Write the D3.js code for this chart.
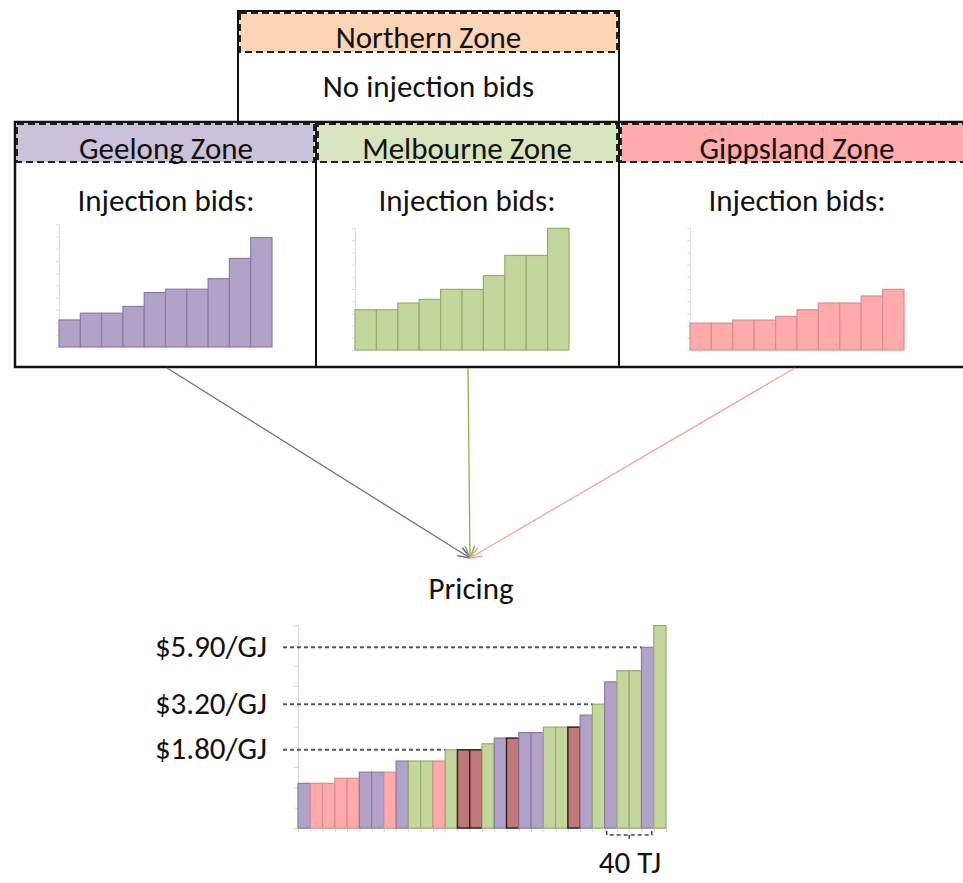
<!DOCTYPE html>
<html>
<head>
<meta charset="utf-8">
<script src="https://cdn.jsdelivr.net/npm/d3@7"></script>
<style>
  body { margin: 0; background: #fff; }
  svg { display: block; font-family: Carlito, Lato, sans-serif; }
</style>
</head>
<body>
<svg id="chart"></svg>
<script>
// bid prices of each zone, in ascending order (schematic units 0-10)
const geelongBids   = [2.2, 2.75, 2.75, 3.3, 4.43, 4.7, 4.7, 5.56, 7.2, 8.9];
const melbourneBids = [3.3, 3.3, 3.85, 4.15, 4.97, 4.97, 6.1, 7.75, 7.75, 9.97];
const gippslandBids = [2.2, 2.2, 2.45, 2.45, 2.75, 3.3, 3.85, 3.85, 4.43, 4.97];

// merit order stack: which zone each bar comes from
const pricingOrder = [
  "Geelong", "Gippsland", "Gippsland", "Gippsland", "Gippsland",
  "Geelong", "Geelong", "Gippsland", "Geelong", "Melbourne",
  "Melbourne", "Gippsland", "Melbourne", "Gippsland", "Gippsland",
  "Melbourne", "Geelong", "Gippsland", "Geelong", "Geelong",
  "Melbourne", "Melbourne", "Gippsland", "Geelong", "Melbourne",
  "Geelong", "Melbourne", "Melbourne", "Geelong", "Melbourne"
];
// bars drawn in the darker red
const darkBars = [13, 14, 17, 22];

// price labels and the bar whose top they mark
const priceLabels = ["$5.90/GJ", "$3.20/GJ", "$1.80/GJ"];
const priceBars = [28, 24, 12];

const zoneNames = ["Geelong", "Melbourne", "Gippsland"];
const zoneBids = { Geelong: geelongBids, Melbourne: melbourneBids, Gippsland: gippslandBids };

const fill = { Geelong: "#b3a2c7", Melbourne: "#c3d69b", Gippsland: "#ffabab", dark: "#c0787a", Northern: "#fcd5b4" };
const stroke = { Geelong: "#8a7ba4", Melbourne: "#97ad6a", Gippsland: "#d98e8e", dark: "#3a2020" };
const headFill = { Geelong: "#ccc1da", Melbourne: "#d7e4bd", Gippsland: "#ffabab" };
const arrowCol = { Geelong: "#7667a3", Melbourne: "#8db04f", Gippsland: "#f2a3a3" };

const W = 963, H = 883;
const svg = d3.select("#chart").attr("width", W).attr("height", H);

const txt = "#111";
const fs = 31;

// ---- Northern zone box
const north = { x0: 238, x1: 619, y0: 11, yh: 52, y1: 122 };
svg.append("rect")
  .attr("x", north.x0 + 2).attr("y", north.y0 + 2)
  .attr("width", north.x1 - north.x0 - 4).attr("height", north.yh - north.y0 - 2)
  .attr("fill", fill.Northern)
  .attr("stroke", "#222").attr("stroke-width", 2).attr("stroke-dasharray", "7,4");
svg.append("rect")
  .attr("x", north.x0).attr("y", north.y0)
  .attr("width", north.x1 - north.x0).attr("height", north.y1 - north.y0)
  .attr("fill", "none").attr("stroke", "#111").attr("stroke-width", 2);
svg.append("text")
  .attr("x", (north.x0 + north.x1) / 2).attr("y", 41)
  .attr("text-anchor", "middle").attr("dominant-baseline", "middle")
  .attr("font-size", fs).attr("fill", txt).text("Northern Zone");
svg.append("text")
  .attr("x", (north.x0 + north.x1) / 2).attr("y", 90)
  .attr("text-anchor", "middle").attr("dominant-baseline", "middle")
  .attr("font-size", fs).attr("fill", txt).text("No injection bids");

// ---- the three injection zones
const zoneBox = {
  Geelong:   { x0: 15,  x1: 316, tx: 166, px0: 59,  px1: 272, py0: 224, py1: 347, out: 167 },
  Melbourne: { x0: 316, x1: 619, tx: 467, px0: 355, px1: 569, py0: 228, py1: 350, out: 468 },
  Gippsland: { x0: 619, x1: 975, tx: 797, px0: 690, px1: 904, py0: 228, py1: 350, out: 795 }
};
const zTop = 122, zHead = 162, zBot = 367;

zoneNames.forEach(z => {
  const b = zoneBox[z];
  svg.append("rect")
    .attr("x", b.x0 + 2).attr("y", zTop + 2)
    .attr("width", b.x1 - b.x0 - 4).attr("height", zHead - zTop - 2)
    .attr("fill", headFill[z])
    .attr("stroke", "#222").attr("stroke-width", 2).attr("stroke-dasharray", "7,4");

  svg.append("text")
    .attr("x", b.tx).attr("y", 152)
    .attr("text-anchor", "middle").attr("dominant-baseline", "middle")
    .attr("font-size", fs).attr("fill", txt).text(z + " Zone");
  svg.append("text")
    .attr("x", b.tx).attr("y", 204)
    .attr("text-anchor", "middle").attr("dominant-baseline", "middle")
    .attr("font-size", fs).attr("fill", txt).text("Injection bids:");

  // mini bid stack
  const bids = zoneBids[z];
  const x = d3.scaleBand().domain(d3.range(bids.length)).range([b.px0, b.px1]);
  const y = d3.scaleLinear().domain([0, 10]).range([b.py1, b.py0]);

  const ax = svg.append("g")
    .attr("transform", `translate(${b.px0},0)`)
    .call(d3.axisLeft(y).ticks(10).tickSize(3).tickFormat(""));
  ax.selectAll("path, line").attr("stroke", "#dcdcdc");

  svg.append("g").selectAll("rect")
    .data(bids)
    .join("rect")
    .attr("x", (d, i) => x(i)).attr("width", x.bandwidth())
    .attr("y", d => y(d)).attr("height", d => y(0) - y(d))
    .attr("fill", fill[z]).attr("stroke", stroke[z]).attr("stroke-width", 1.2);
});

// solid frame of the zone row
svg.append("path")
  .attr("d", `M${W + 5},${zTop} H15 V${zBot} H${W + 5}`)
  .attr("fill", "none").attr("stroke", "#111").attr("stroke-width", 2.5);
[316, 619].forEach(xv => {
  svg.append("line")
    .attr("x1", xv).attr("x2", xv).attr("y1", zTop).attr("y2", zBot)
    .attr("stroke", "#111").attr("stroke-width", 2);
});

// ---- arrows to pricing
const tip = { x: 470, y: 558 };
const defs = svg.append("defs");
zoneNames.forEach(z => {
  defs.append("marker")
    .attr("id", "arr-" + z)
    .attr("viewBox", "0 0 10 10").attr("refX", 10).attr("refY", 5)
    .attr("markerWidth", 12).attr("markerHeight", 12)
    .attr("markerUnits", "userSpaceOnUse")
    .attr("orient", "auto")
    .append("path").attr("d", "M0,1 L10,5 L0,9")
    .attr("fill", "none").attr("stroke", arrowCol[z]).attr("stroke-width", 1.3);
  svg.append("line")
    .attr("x1", zoneBox[z].out).attr("y1", zBot + 1)
    .attr("x2", tip.x).attr("y2", tip.y)
    .attr("stroke", arrowCol[z]).attr("stroke-width", 1.3)
    .attr("marker-end", `url(#arr-${z})`);
});

svg.append("text")
  .attr("x", 471).attr("y", 592)
  .attr("text-anchor", "middle").attr("dominant-baseline", "middle")
  .attr("font-size", fs).attr("fill", txt).text("Pricing");

// ---- pricing stack
const used = { Geelong: 0, Melbourne: 0, Gippsland: 0 };
const stack = pricingOrder.map((z, i) => ({
  zone: z,
  value: zoneBids[z][used[z]++],
  dark: darkBars.includes(i)
}));

const px = d3.scaleBand().domain(d3.range(stack.length)).range([298, 666]);
const pxl = d3.scaleLinear().domain([0, stack.length]).range([298, 666]);
const py = d3.scaleLinear().domain([0, 10]).range([828, 625]);

const pAxis = svg.append("g")
  .attr("transform", "translate(298,0)")
  .call(d3.axisLeft(py).ticks(10).tickSize(4).tickFormat(""));
pAxis.selectAll("path, line").attr("stroke", "#d4d4d4");
const bAxis = svg.append("g")
  .attr("transform", "translate(0,828)")
  .call(d3.axisBottom(pxl).ticks(stack.length).tickSize(4).tickFormat("").tickSizeOuter(0));
bAxis.selectAll("path, line").attr("stroke", "#d4d4d4");

svg.append("g").selectAll("rect")
  .data(stack)
  .join("rect")
  .attr("x", (d, i) => px(i)).attr("width", px.bandwidth())
  .attr("y", d => py(d.value)).attr("height", d => py(0) - py(d.value))
  .attr("fill", d => d.dark ? fill.dark : fill[d.zone])
  .attr("stroke", d => d.dark ? stroke.dark : stroke[d.zone])
  .attr("stroke-width", d => d.dark ? 1.5 : 1.2);

// price marker lines
priceLabels.forEach((lab, k) => {
  const bi = priceBars[k];
  const yv = py(stack[bi].value);
  svg.append("line")
    .attr("x1", 283).attr("x2", px(bi)).attr("y1", yv).attr("y2", yv)
    .attr("stroke", "#555").attr("stroke-width", 2).attr("stroke-dasharray", "4,3");
  svg.append("text")
    .attr("x", 267).attr("y", yv + 2)
    .attr("text-anchor", "end").attr("dominant-baseline", "middle")
    .attr("font-size", fs).attr("fill", txt).text(lab);
});

// 40 TJ bracket under bars 26-29
const bx0 = px(25) + 2, bx1 = px(29) - 2, bm = (bx0 + bx1) / 2;
svg.append("path")
  .attr("d", `M${bx0},831 V835 H${bx1} V831 M${bm},835 V840`)
  .attr("fill", "none").attr("stroke", "#444").attr("stroke-width", 1.5)
  .attr("stroke-dasharray", "4,3");
svg.append("text")
  .attr("x", 630).attr("y", 866)
  .attr("text-anchor", "middle").attr("dominant-baseline", "middle")
  .attr("font-size", fs).attr("fill", txt).text("40 TJ");
</script>
</body>
</html>
